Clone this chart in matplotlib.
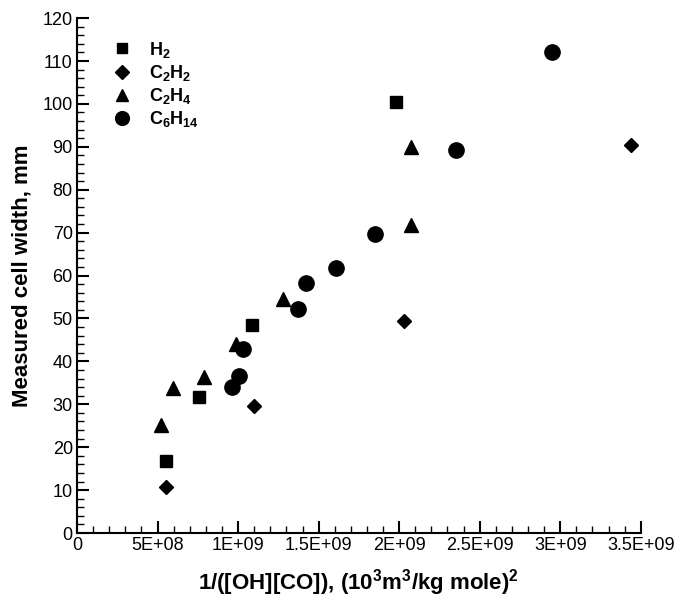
import numpy as np
from matplotlib import pyplot as plt
from matplotlib.ticker import MultipleLocator

plt.rcParams['font.family'] = ['Liberation Sans', 'DejaVu Sans']
plt.rcParams['mathtext.fontset'] = 'custom'
plt.rcParams['mathtext.rm'] = 'Liberation Sans'
plt.rcParams['mathtext.bf'] = 'Liberation Sans:bold'

# data (x in units of 1e9)
h2_x = [0.554, 0.759, 1.084, 1.983]
h2_y = [16.7, 31.8, 48.5, 100.4]
c2h2_x = [0.554, 1.10, 2.03, 3.44]
c2h2_y = [10.8, 29.7, 49.3, 90.4]
c2h4_x = [0.519, 0.597, 0.788, 0.99, 1.28, 2.072, 2.072]
c2h4_y = [25.2, 33.9, 36.3, 44.0, 54.5, 71.8, 89.9]
c6h14_x = [0.963, 1.007, 1.03, 1.369, 1.42, 1.605, 1.853, 2.351, 2.951]
c6h14_y = [34.1, 36.6, 42.9, 52.1, 58.2, 61.7, 69.6, 89.3, 112.0]

x_ticks = [0, 0.5e9, 1e9, 1.5e9, 2e9, 2.5e9, 3e9, 3.5e9]
x_tick_labels = ['0', '5E+08', '1E+09', '1.5E+09', '2E+09', '2.5E+09', '3E+09', '3.5E+09']
y_ticks = list(range(0, 121, 10))

series = [
    (h2_x, h2_y, 's', 8, r'$\mathbf{H_2}$'),
    (c2h2_x, c2h2_y, 'D', 7.5, r'$\mathbf{C_2H_2}$'),
    (c2h4_x, c2h4_y, '^', 9.5, r'$\mathbf{C_2H_4}$'),
    (c6h14_x, c6h14_y, 'o', 11, r'$\mathbf{C_6H_{14}}$'),
]

f, ax = plt.subplots(figsize=(6.81, 6.03), dpi=100)
f.subplots_adjust(left=0.113, right=0.941, bottom=0.116, top=0.970)

for xs, ys, marker, ms, label in series:
    ax.plot(np.array(xs) * 1e9, ys, linestyle='none', marker=marker, ms=ms,
            color='black', label=label)

ax.set_xlim(0, 3.5e9)
ax.set_ylim(0, 120)
ax.set_xticks(x_ticks)
ax.set_xticklabels(x_tick_labels)
ax.set_yticks(y_ticks)
ax.xaxis.set_minor_locator(MultipleLocator(1e8))
ax.yaxis.set_minor_locator(MultipleLocator(2))

for side in ['top', 'right']:
    ax.spines[side].set_visible(False)
for side in ['left', 'bottom']:
    ax.spines[side].set_linewidth(1.5)

ax.tick_params(which='major', direction='in', length=8.5, width=1.5, labelsize=13, pad=3)
ax.tick_params(which='minor', direction='in', length=5, width=1.0)

ax.set_xlabel(r'1/([OH][CO]), (10$^\mathbf{3}$m$^\mathbf{3}$/kg mole)$^\mathbf{2}$',
              fontsize=16, fontweight='bold', labelpad=9)
ax.set_ylabel('Measured cell width, mm', fontsize=16, fontweight='bold', labelpad=7)

ax.legend(loc='upper left', bbox_to_anchor=(0.065, 0.958), frameon=False,
          fontsize=13, handlelength=0.95, handletextpad=1.0, labelspacing=0.18,
          borderaxespad=0, borderpad=0, markerscale=0.9)

f.savefig('out.png')
plt.close(f)
